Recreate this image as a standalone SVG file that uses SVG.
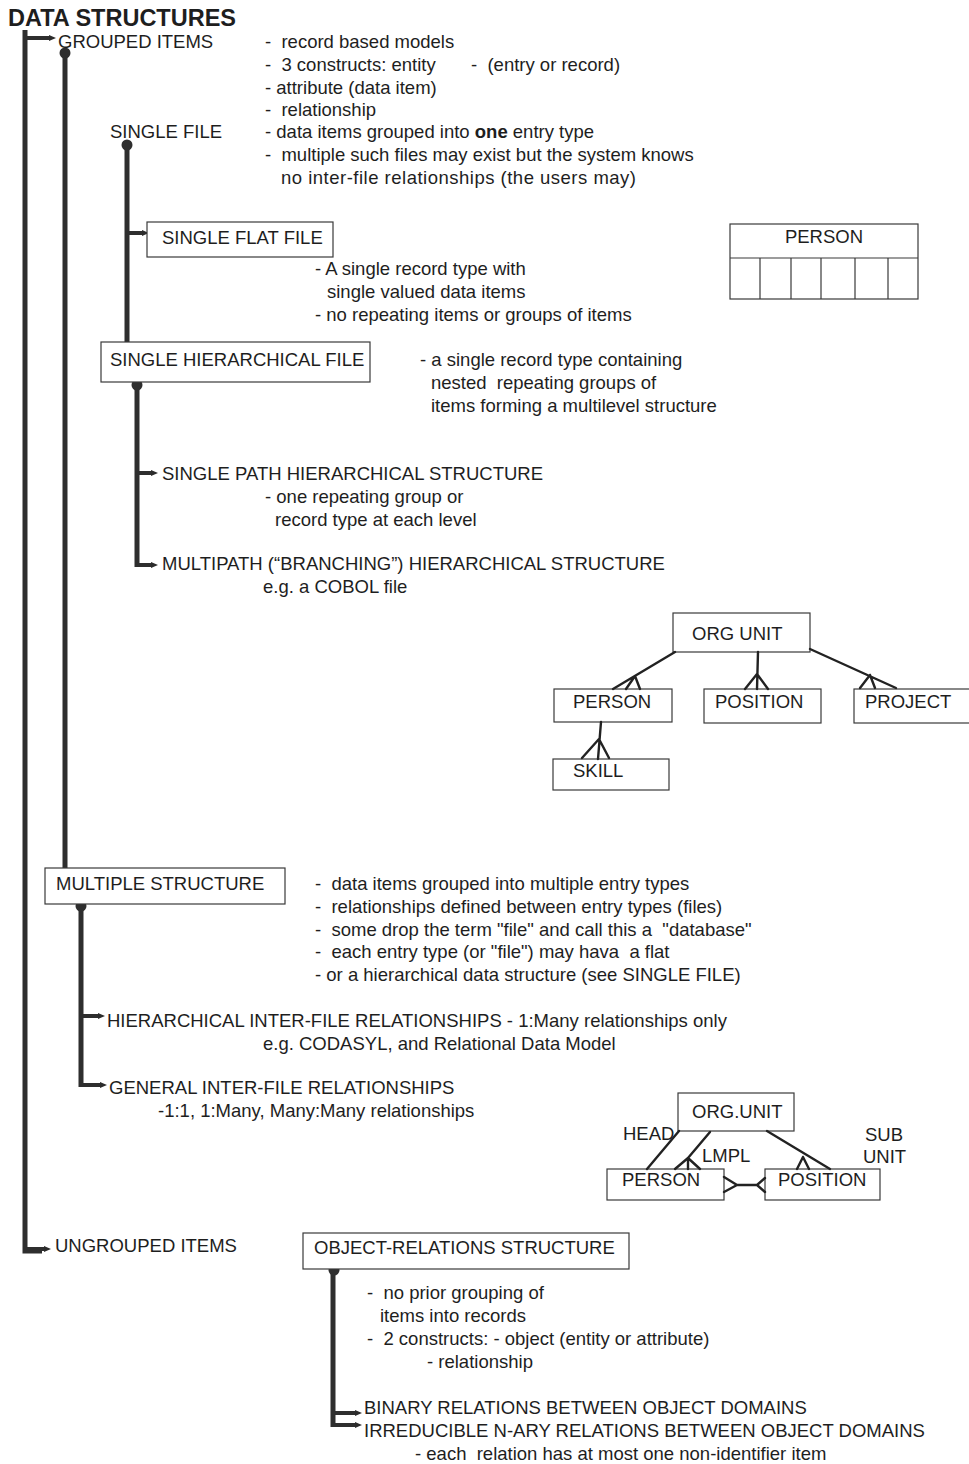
<svg xmlns="http://www.w3.org/2000/svg" width="969" height="1464" viewBox="0 0 969 1464">
<defs>
<marker id="tip" viewBox="0 0 8 8" refX="1" refY="4" markerWidth="8" markerHeight="8" markerUnits="userSpaceOnUse" orient="auto">
<path d="M0,1 L7,4 L0,7 z" fill="#2b2b2b"/>
</marker>
<style>
.t{font-family:"Liberation Sans",Arial,Helvetica,sans-serif;font-size:18.5px;fill:#1e1e1e}
.h{font-family:"Liberation Sans",Arial,Helvetica,sans-serif;font-size:24px;font-weight:bold;fill:#1e1e1e}
.box{fill:#fff;stroke:#3a3a3a;stroke-width:1.2}
.trunk{fill:none;stroke:#2e2e2e;stroke-width:5;stroke-linecap:butt}
.br{fill:none;stroke:#2e2e2e;stroke-width:4;marker-end:url(#tip)}
.dot{fill:#2e2e2e}
.er{fill:none;stroke:#222;stroke-width:2.4;stroke-linecap:round}
.thin{fill:none;stroke:#3a3a3a;stroke-width:1.2}
</style>
</defs>
<rect width="969" height="1464" fill="#fff"/>

<text class="h" x="8" y="26" textLength="228" lengthAdjust="spacingAndGlyphs">DATA STRUCTURES</text>

<g id="connectors">
<!-- main trunk -->
<path class="trunk" d="M25,30 V1251 H42"/>
<path class="br" d="M25,38 H50"/>
<path class="br" d="M25,1249 H45"/>
<!-- grouped items trunk -->
<path class="trunk" d="M65,52 V868" stroke-width="4.5"/>
<circle class="dot" cx="65" cy="53" r="5.5"/>
<!-- single file trunk -->
<path class="trunk" d="M127,144 V342" stroke-width="4"/>
<circle class="dot" cx="127" cy="145" r="5.5"/>
<path class="br" d="M127,233 H143"/>
<!-- single hierarchical file trunk -->
<path class="trunk" d="M137,384 V567" stroke-width="4"/>
<circle class="dot" cx="137" cy="385" r="5.5"/>
<path class="br" d="M137,473 H152"/>
<path class="br" d="M137,565 H152"/>
<!-- multiple structure trunk -->
<path class="trunk" d="M81,905 V1087" stroke-width="4"/>
<circle class="dot" cx="81" cy="906" r="5.5"/>
<path class="br" d="M81,1016 H99"/>
<path class="br" d="M81,1085 H101"/>
<!-- object-relations trunk -->
<path class="trunk" d="M333,1269 V1427" stroke-width="4"/>
<circle class="dot" cx="334" cy="1270" r="5.5"/>
<path class="br" d="M333,1413 H356"/>
<path class="br" d="M333,1425 H356"/>
</g>

<g id="grouped-items">
<text class="t" x="58" y="48">GROUPED ITEMS</text>
<text class="t" x="265" y="48" xml:space="preserve">-  record based models</text>
<text class="t" x="265" y="71" xml:space="preserve">-  3 constructs: entity</text>
<text class="t" x="471" y="71" xml:space="preserve">-  (entry or record)</text>
<text class="t" x="265" y="94">- attribute (data item)</text>
<text class="t" x="265" y="116" xml:space="preserve">-  relationship</text>
</g>

<g id="single-file">
<text class="t" x="110" y="138">SINGLE FILE</text>
<text class="t" x="265" y="138">- data items grouped into <tspan font-weight="bold">one</tspan> entry type</text>
<text class="t" x="265" y="161" xml:space="preserve">-  multiple such files may exist but the system knows</text>
<text class="t" x="281" y="184" textLength="355">no inter-file relationships (the users may)</text>
</g>

<g id="single-flat-file">
<rect class="box" x="147" y="222" width="186" height="35"/>
<text class="t" x="162" y="244">SINGLE FLAT FILE</text>
<text class="t" x="315" y="275">- A single record type with</text>
<text class="t" x="327" y="298">single valued data items</text>
<text class="t" x="315" y="321">- no repeating items or groups of items</text>
</g>

<g id="person-record">
<rect class="box" x="730" y="224" width="188" height="75"/>
<path class="thin" d="M730,258 H918 M760,258 V299 M791,258 V299 M821,258 V299 M855,258 V299 M888,258 V299"/>
<text class="t" x="824" y="243" text-anchor="middle">PERSON</text>
</g>

<g id="single-hierarchical-file">
<rect class="box" x="101" y="342" width="269" height="40"/>
<text class="t" x="110" y="366">SINGLE HIERARCHICAL FILE</text>
<text class="t" x="420" y="366">- a single record type containing</text>
<text class="t" x="431" y="389" xml:space="preserve">nested  repeating groups of</text>
<text class="t" x="431" y="412">items forming a multilevel structure</text>
</g>

<g id="single-path">
<text class="t" x="162" y="480">SINGLE PATH HIERARCHICAL STRUCTURE</text>
<text class="t" x="265" y="503">- one repeating group or</text>
<text class="t" x="275" y="526">record type at each level</text>
</g>

<g id="multipath">
<text class="t" x="162" y="570">MULTIPATH (“BRANCHING”) HIERARCHICAL STRUCTURE</text>
<text class="t" x="263" y="593">e.g. a COBOL file</text>
</g>

<g id="org-unit-hierarchy">
<rect class="box" x="673" y="613" width="137" height="39"/>
<text class="t" x="692" y="640">ORG UNIT</text>
<rect class="box" x="554" y="689" width="118" height="33"/>
<text class="t" x="573" y="708">PERSON</text>
<rect class="box" x="704" y="689" width="117" height="34"/>
<text class="t" x="715" y="708">POSITION</text>
<rect class="box" x="854" y="689" width="120" height="34"/>
<text class="t" x="865" y="708">PROJECT</text>
<rect class="box" x="553" y="759" width="116" height="31"/>
<text class="t" x="573" y="777">SKILL</text>
<path class="er" d="M675,652 L613,689 M635,676 L626,689 M635,676 L640,689"/>
<path class="er" d="M758,652 L757,689 M757,674 L745,689 M757,674 L768,689"/>
<path class="er" d="M810,649 L896,688 M870,675 L860,688 M870,675 L875,688"/>
<path class="er" d="M601,722 L598,759 M599,739 L582,758 M599,739 L609,758"/>
</g>

<g id="multiple-structure">
<rect class="box" x="45" y="868" width="240" height="36"/>
<text class="t" x="56" y="890">MULTIPLE STRUCTURE</text>
<text class="t" x="315" y="890" xml:space="preserve">-  data items grouped into multiple entry types</text>
<text class="t" x="315" y="913" xml:space="preserve">-  relationships defined between entry types (files)</text>
<text class="t" x="315" y="936" xml:space="preserve">-  some drop the term "file" and call this a  "database"</text>
<text class="t" x="315" y="958" xml:space="preserve">-  each entry type (or "file") may hava  a flat</text>
<text class="t" x="315" y="981">- or a hierarchical data structure (see SINGLE FILE)</text>
</g>

<g id="hierarchical-inter-file">
<text class="t" x="107" y="1027">HIERARCHICAL INTER-FILE RELATIONSHIPS - 1:Many relationships only</text>
<text class="t" x="263" y="1050">e.g. CODASYL, and Relational Data Model</text>
</g>

<g id="general-inter-file">
<text class="t" x="109" y="1094">GENERAL INTER-FILE RELATIONSHIPS</text>
<text class="t" x="158" y="1117">-1:1, 1:Many, Many:Many relationships</text>
</g>

<g id="org-unit-network">
<rect class="box" x="678" y="1093" width="116" height="38"/>
<text class="t" x="692" y="1118">ORG.UNIT</text>
<rect class="box" x="607" y="1169" width="117" height="31"/>
<text class="t" x="622" y="1186">PERSON</text>
<rect class="box" x="765" y="1169" width="115" height="31"/>
<text class="t" x="778" y="1186">POSITION</text>
<text class="t" x="623" y="1140">HEAD</text>
<text class="t" x="702" y="1162">LMPL</text>
<text class="t" x="865" y="1141">SUB</text>
<text class="t" x="863" y="1163">UNIT</text>
<path class="er" d="M679,1131 L647,1169"/>
<path class="er" d="M710,1132 L688,1158 M688,1158 L675,1169 M688,1158 L688,1169 M688,1158 L700,1169"/>
<path class="er" d="M767,1131 L830,1169 M803,1157 L797,1169 M803,1157 L809,1169"/>
<path class="er" d="M737,1185 L757,1185 M737,1185 L724,1177 M737,1185 L724,1192 M757,1185 L765,1178 M757,1185 L765,1192"/>
</g>

<g id="ungrouped-items">
<text class="t" x="55" y="1252">UNGROUPED ITEMS</text>
</g>

<g id="object-relations">
<rect class="box" x="303" y="1233" width="326" height="36"/>
<text class="t" x="314" y="1254">OBJECT-RELATIONS STRUCTURE</text>
<text class="t" x="367" y="1299" xml:space="preserve">-  no prior grouping of</text>
<text class="t" x="380" y="1322">items into records</text>
<text class="t" x="367" y="1345" xml:space="preserve">-  2 constructs: - object (entity or attribute)</text>
<text class="t" x="427" y="1368">- relationship</text>
</g>

<g id="binary-relations">
<text class="t" x="364" y="1414">BINARY RELATIONS BETWEEN OBJECT DOMAINS</text>
</g>

<g id="nary-relations">
<text class="t" x="364" y="1437">IRREDUCIBLE N-ARY RELATIONS BETWEEN OBJECT DOMAINS</text>
<text class="t" x="415" y="1460" xml:space="preserve">- each  relation has at most one non-identifier item</text>
</g>
</svg>
